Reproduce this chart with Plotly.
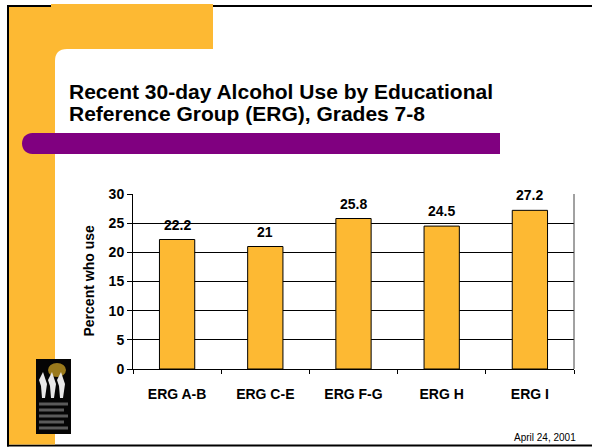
import plotly.graph_objects as go

# data
categories = ["ERG A-B", "ERG C-E", "ERG F-G", "ERG H", "ERG I"]
pct_use = [22.2, 21, 25.8, 24.5, 27.2]
y_ticks = [0, 5, 10, 15, 20, 25, 30]

W, H = 592, 447
PL, PR, PT, PB = 133, 574, 194, 369   # plot area in pixels
FONT = "Arial, 'Liberation Sans', sans-serif"
ORANGE = "#FDB933"
PURPLE = "#800080"


def px(x):
    return (x - PL) / (PR - PL)


def py(y):
    return (PB - y) / (PB - PT)


def path(points):
    return " ".join(points)


def rect(x0, y0, x1, y1, color, line=None):
    return dict(type="rect", xref="paper", yref="paper",
                x0=px(x0), x1=px(x1), y0=py(y1), y1=py(y0),
                fillcolor=color, line=line or dict(width=0), layer="above")


def hline(x0, x1, y, color="black", width=2):
    return dict(type="line", xref="paper", yref="paper",
                x0=px(x0), x1=px(x1), y0=py(y), y1=py(y),
                line=dict(color=color, width=width))


def vline(x, y0, y1, color="black", width=2):
    return dict(type="line", xref="paper", yref="paper",
                x0=px(x), x1=px(x), y0=py(y0), y1=py(y1),
                line=dict(color=color, width=width))


def P(x, y):
    return f"{px(x)},{py(y)}"


shapes = []
# slide frame
shapes.append(hline(7, 592, 6))
shapes.append(hline(7, 592, 445.5))
shapes.append(vline(8, 5, 446.5))

# orange L with rounded inner corner
r = 12
orange_path = path([
    "M", P(9, 7), "L", P(51, 7), "L", P(51, 4), "L", P(213, 4), "L", P(213, 49),
    "L", P(55 + r, 49), "Q", P(55, 49), P(55, 49 + r),
    "L", P(55, 444.5), "L", P(9, 444.5), "Z"])
shapes.append(dict(type="path", xref="paper", yref="paper", path=orange_path,
                   fillcolor=ORANGE, line=dict(width=0), layer="above"))

# purple bar with rounded left end
top, bot, cx = 133, 154, 32.5
k = (bot - top) / 2 * 4 / 3
purple_path = path([
    "M", P(cx, top), "L", P(500, top), "L", P(500, bot), "L", P(cx, bot),
    "C", P(cx - k, bot), P(cx - k, top), P(cx, top), "Z"])
shapes.append(dict(type="path", xref="paper", yref="paper", path=purple_path,
                   fillcolor=PURPLE, line=dict(width=0), layer="above"))

# logo (rough)
shapes.append(rect(36, 359, 71, 434, "#050505"))
shapes.append(dict(type="circle", xref="paper", yref="paper",
                   x0=px(48), x1=px(66), y0=py(377), y1=py(363),
                   fillcolor="#9a7a1c", line=dict(width=0), layer="above"))
for fx in (39, 48, 57):
    shapes.append(dict(type="path", xref="paper", yref="paper",
                       path=path(["M", P(fx + 4, 372), "L", P(fx + 8, 384), "L", P(fx + 6, 398),
                                  "L", P(fx + 3, 398), "L", P(fx + 2, 386), "L", P(fx, 380), "Z"]),
                       fillcolor="#e8e8e8", line=dict(width=0), layer="above"))
for i, ly in enumerate([404, 410, 416, 422, 428]):
    shapes.append(hline(39, 68 - (i % 2) * 4, ly, color="#5a5a5a", width=3))

# right border of plot area
shapes.append(dict(type="line", xref="paper", yref="paper", x0=1, x1=1, y0=0, y1=1,
                   line=dict(color="#444444", width=1)))

fig = go.Figure(go.Bar(
    x=categories,
    y=pct_use,
    width=0.4,
    marker=dict(color=ORANGE, line=dict(color="black", width=1)),
    hoverinfo="skip",
))

annotations = [
    dict(x=c, y=v, xref="x", yref="y", text=f"<b>{v:g}</b>", showarrow=False,
         yanchor="bottom", yshift=5, font=dict(family=FONT, size=14, color="black"))
    for c, v in zip(categories, pct_use)
]
annotations += [
    dict(x=px(67), y=py(91), xref="paper", yref="paper", xanchor="left", yanchor="middle",
         text="<b>Recent 30-day Alcohol Use by Educational</b>", showarrow=False,
         font=dict(family=FONT, size=21, color="black")),
    dict(x=px(67), y=py(113), xref="paper", yref="paper", xanchor="left", yanchor="middle",
         text="<b>Reference Group (ERG), Grades 7-8</b>", showarrow=False,
         font=dict(family=FONT, size=21, color="black")),
    dict(x=px(88), y=0.5, xref="paper", yref="paper", xanchor="center", yanchor="middle",
         textangle=-90, text="<b>Percent who use</b>", showarrow=False,
         font=dict(family=FONT, size=14, color="black")),
    dict(x=px(578), y=py(437), xref="paper", yref="paper", xanchor="right", yanchor="middle",
         text="April 24, 2001", showarrow=False,
         font=dict(family=FONT, size=10, color="black")),
]

fig.update_layout(
    width=W, height=H,
    margin=dict(l=PL, r=W - PR, t=PT, b=H - PB),
    paper_bgcolor="white", plot_bgcolor="white",
    showlegend=False,
    shapes=shapes,
    annotations=annotations,
    font=dict(family=FONT, size=14, color="black"),
)
fig.update_xaxes(
    showline=True, linecolor="black", linewidth=1,
    ticks="outside", tickson="boundaries", ticklen=4, tickcolor="black",
    ticklabelstandoff=12,
    tickfont=dict(family=FONT, size=14, color="black", weight="bold"),
    showgrid=False,
)
fig.update_yaxes(
    range=[0, 30], tickvals=y_ticks,
    showline=True, linecolor="black", linewidth=1,
    ticks="outside", ticklen=5, tickcolor="black",
    showgrid=True, gridcolor="black", gridwidth=1, zeroline=False,
    tickfont=dict(family=FONT, size=14, color="black", weight="bold"),
)

# page has a default 8px body margin; drop it so the slide sits at the window corner
fig.write_html("out.html", config={"displayModeBar": False},
               post_script="document.body.style.margin='0';")
